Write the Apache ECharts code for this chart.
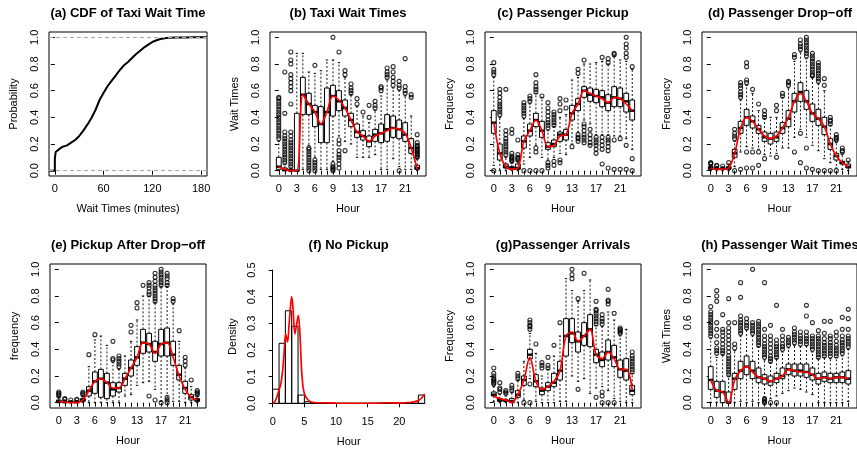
<!DOCTYPE html>
<html>
<head>
<meta charset="utf-8">
<script src="https://cdn.jsdelivr.net/npm/echarts@6/dist/echarts.min.js"></script>
<style>
html, body { margin: 0; background: #fff; }
#chart { width: 857px; height: 451px; }
</style>
</head>
<body>
<div id="chart"></div>
<script>
var hours = [0,1,2,3,4,5,6,7,8,9,10,11,12,13,14,15,16,17,18,19,20,21,22,23];
var hourLabels = [0,3,6,9,13,17,21];
var unitTicks = [0,0.2,0.4,0.6,0.8,1.0];

// (a) CDF of taxi wait time
var cdfT = [-7,0,0,1,3,6,10,15,20,25,30,35,40,45,50,55,60,65,70,75,80,85,90,95,100,105,110,115,120,125,130,135,140,150,160,170,180,187];
var cdfP = [0,0,0.09,0.14,0.155,0.165,0.18,0.19,0.21,0.23,0.26,0.30,0.345,0.395,0.455,0.53,0.585,0.635,0.675,0.715,0.755,0.79,0.815,0.845,0.875,0.90,0.925,0.945,0.965,0.978,0.987,0.993,0.996,0.998,0.999,1,1,1];
var cdfTicks = [0,60,120,180];

// box stats per hour: [min, q1, median, q3, max]
var waitStats = [[0,0.01,0.03,0.10,0.22],[0,0,0.005,0.02,0.05],[0,0,0,0.01,0.02],[0,0,0,0.43,0.88],[0.01,0.42,0.57,0.70,0.88],[0.19,0.42,0.50,0.58,0.74],[0.10,0.33,0.44,0.49,0.73],[0.01,0.21,0.35,0.48,0.75],[0.01,0.21,0.44,0.62,0.83],[0.07,0.41,0.56,0.64,0.83],[0.26,0.45,0.52,0.60,0.81],[0.22,0.41,0.47,0.53,0.70],[0.20,0.33,0.38,0.43,0.57],[0.10,0.25,0.29,0.35,0.48],[0.10,0.23,0.26,0.30,0.41],[0.10,0.18,0.22,0.26,0.36],[0.12,0.22,0.27,0.31,0.45],[0.01,0.21,0.28,0.35,0.56],[0.01,0.22,0.31,0.42,0.68],[0.09,0.25,0.32,0.41,0.62],[0.03,0.24,0.31,0.38,0.60],[0.01,0.22,0.27,0.36,0.56],[0.01,0.13,0.17,0.24,0.41],[0,0.01,0.02,0.04,0.09]];
var waitOut = [[0.24,0.26,0.28,0.30,0.32,0.34,0.36,0.38,0.40,0.42,0.44,0.46,0.48,0.50,0.52,0.54,0.55],[0.06,0.08,0.10,0.12,0.14,0.16,0.18,0.20,0.22,0.24,0.26,0.29,0.43,0.74],[0.03,0.05,0.07,0.09,0.11,0.13,0.15,0.17,0.19,0.21,0.23,0.26,0.29,0.50,0.60,0.63,0.66,0.69,0.72,0.80,0.83,0.89],[],[],[0.0,0.02,0.04,0.06,0.08,0.10,0.12,0.14,0.16,0.17],[0.0,0.02,0.04,0.06,0.08,0.79],[],[],[0.0,0.01,0.02,0.03,0.05,1.0],[0.02,0.05,0.08,0.10,0.12,0.15,0.20,0.23,0.89],[0.15,0.72,0.75],[0.58,0.60,0.62,0.65],[0.50,0.54],[0.44],[0.40,0.49],[0.47,0.49,0.52],[0.60,0.62,0.63],[0.70,0.72,0.74,0.77],[0.64,0.67,0.70,0.74,0.78],[0.0,0.62,0.64,0.67],[0.58,0.60,0.63,0.84],[0.55,0.57],[0.10,0.11,0.12,0.13,0.14,0.15,0.16,0.17,0.18,0.19,0.21,0.27]];
var waitLine = [0.03,0.01,0.0,0.0,0.57,0.50,0.44,0.35,0.44,0.56,0.53,0.47,0.38,0.29,0.26,0.22,0.26,0.28,0.30,0.32,0.31,0.28,0.17,0.01];

var pickStats = [[0.04,0.28,0.36,0.45,0.70],[0,0.08,0.13,0.20,0.40],[0,0.02,0.03,0.05,0.10],[0,0.01,0.02,0.03,0.06],[0,0.01,0.02,0.05,0.07],[0.05,0.17,0.22,0.26,0.39],[0.10,0.26,0.30,0.35,0.50],[0.19,0.33,0.38,0.43,0.58],[0.10,0.25,0.30,0.37,0.55],[0.08,0.16,0.18,0.21,0.30],[0.10,0.18,0.20,0.23,0.33],[0.13,0.22,0.27,0.29,0.40],[0.12,0.23,0.27,0.31,0.42],[0.20,0.38,0.43,0.49,0.68],[0.29,0.45,0.50,0.54,0.70],[0.38,0.55,0.60,0.63,0.80],[0.35,0.52,0.57,0.62,0.80],[0.27,0.51,0.56,0.61,0.81],[0.27,0.48,0.55,0.60,0.82],[0.27,0.45,0.51,0.57,0.80],[0.26,0.48,0.55,0.63,0.86],[0.26,0.48,0.54,0.62,0.83],[0.24,0.44,0.52,0.58,0.82],[0.16,0.38,0.45,0.53,0.76]];
var pickOut = [[0.0,0.72,0.74,0.76,0.81],[0.42,0.44,0.46,0.48,0.50,0.52,0.55,0.58,0.61],[0.12,0.14,0.16,0.18,0.20,0.22,0.24,0.27,0.30,0.61],[0.07,0.08,0.09,0.10,0.11,0.13,0.28,0.31],[0.08,0.09,0.10,0.12,0.23],[0.0,0.41,0.43,0.45,0.47,0.49,0.51],[0.0,0.52,0.54,0.56],[0.0,0.14,0.17,0.59,0.61,0.63,0.66,0.72],[0.0,0.56],[0.02,0.04,0.06,0.32,0.34,0.36,0.38,0.41,0.44,0.47,0.51],[0.04,0.07,0.34,0.36,0.38,0.40,0.42,0.44],[0.06,0.08,0.45,0.50,0.54],[0.47,0.53],[0.18],[0.22,0.24,0.25,0.27,0.73,0.76],[0.21,0.23,0.25,0.27,0.30,0.33,0.35,0.83],[0.19,0.21,0.24,0.27,0.31],[0.13,0.16,0.19,0.21,0.23,0.25],[0.05,0.16,0.19,0.22,0.25,0.85],[0.02,0.15,0.18,0.21,0.23,0.25,0.81,0.84],[0.01,0.23,0.87,0.88],[0.01,0.24],[0.01,0.19,0.85,0.88,0.92,0.95,1.0],[0.0,0.09,0.78]];
var pickLine = [0.36,0.13,0.03,0.01,0.02,0.22,0.30,0.38,0.30,0.18,0.19,0.26,0.27,0.43,0.50,0.60,0.58,0.56,0.54,0.51,0.55,0.54,0.50,0.45];

var dropStats = [[0,0.01,0.02,0.03,0.04],[0,0.01,0.015,0.02,0.03],[0,0.01,0.015,0.02,0.03],[0,0.01,0.02,0.03,0.05],[0.03,0.10,0.13,0.16,0.22],[0.14,0.28,0.32,0.37,0.53],[0.18,0.34,0.40,0.46,0.64],[0.17,0.32,0.37,0.41,0.58],[0.16,0.28,0.31,0.34,0.45],[0.12,0.22,0.25,0.29,0.39],[0.11,0.20,0.24,0.28,0.40],[0.13,0.22,0.25,0.29,0.40],[0.17,0.28,0.32,0.36,0.55],[0.17,0.33,0.39,0.45,0.62],[0.25,0.44,0.52,0.58,0.82],[0.31,0.52,0.59,0.66,0.89],[0.25,0.46,0.52,0.60,0.84],[0.19,0.37,0.43,0.50,0.70],[0.15,0.34,0.39,0.46,0.65],[0.09,0.27,0.33,0.40,0.60],[0.06,0.16,0.20,0.24,0.34],[0.02,0.08,0.11,0.13,0.21],[0.01,0.05,0.06,0.07,0.12],[0,0.02,0.03,0.05,0.07]];
var dropOut = [[0.05,0.055,0.06],[0.035,0.04],[0.035],[0.06],[0.0,0.24,0.26,0.28,0.31],[0.01,0.55,0.57,0.59,0.62,0.64,0.66],[0.02,0.14,0.66,0.68,0.78,0.81],[0.02,0.14,0.61],[0.04,0.14,0.50],[0.09,0.40,0.42,0.45],[],[0.10,0.45,0.49],[0.56,0.58],[0.64,0.66,0.67],[0.14,0.85,0.87],[0.06,0.28,0.91,0.93,0.95,0.98],[0.02,0.17,0.86,0.88,0.90,0.92,0.94,0.96,0.98,1.0],[0.01,0.71,0.72,0.74,0.76,0.78,0.80,0.82,0.84,0.86,0.88],[0.0,0.67,0.69,0.71,0.73,0.75,0.77,0.79,0.81],[0.0,0.64,0.69],[0.0,0.35,0.37,0.38,0.40],[0.0,0.23,0.24,0.25,0.27],[0.14,0.15,0.17],[0.08]];
var dropLine = [0.02,0.01,0.01,0.02,0.13,0.32,0.40,0.37,0.31,0.26,0.24,0.26,0.32,0.40,0.52,0.58,0.52,0.43,0.39,0.33,0.20,0.11,0.06,0.03];

var afterStats = [[0,0,0.01,0.02,0.04],[0,0,0.005,0.01,0.02],[0,0,0.005,0.01,0.015],[0,0,0.005,0.01,0.015],[0,0.01,0.02,0.03,0.05],[0,0.05,0.09,0.12,0.27],[0,0.07,0.16,0.23,0.47],[0,0.04,0.18,0.25,0.50],[0,0.03,0.15,0.22,0.43],[0,0.05,0.10,0.15,0.30],[0,0.08,0.11,0.15,0.25],[0.05,0.13,0.18,0.22,0.35],[0.06,0.20,0.26,0.32,0.46],[0.13,0.28,0.34,0.42,0.62],[0.15,0.37,0.45,0.55,0.80],[0.16,0.38,0.44,0.52,0.80],[0.10,0.31,0.38,0.46,0.75],[0.01,0.35,0.44,0.55,0.87],[0.02,0.35,0.45,0.56,0.87],[0.01,0.28,0.36,0.46,0.74],[0.01,0.17,0.21,0.28,0.46],[0,0.07,0.11,0.16,0.26],[0,0.02,0.04,0.06,0.12],[0,0.01,0.02,0.03,0.05]];
var afterOut = [[0.05,0.06,0.07,0.08],[0.025,0.03],[0.02],[0.02,0.025],[0.06,0.07,0.08],[0.36],[0.51],[],[],[0.32,0.33,0.46],[0.27,0.29,0.31,0.33,0.35],[],[0.53,0.58],[0.71,0.75],[0.88],[0.05,0.81,0.83,0.86,0.88,0.90],[0.02,0.76,0.78,0.80,0.82,0.84,0.86,0.88,0.91,0.94,0.97],[0.0,0.88,0.90,0.92,0.94,0.96,0.98,1.0],[0.0,0.02,0.04,0.88,0.90,0.93,0.95,0.97],[0.76,0.78],[0.54],[0.28,0.31,0.34],[0.17],[0.06,0.07,0.08,0.09]];
var afterLine = [0.01,0.005,0.0,0.0,0.02,0.09,0.16,0.18,0.15,0.11,0.11,0.18,0.26,0.34,0.45,0.44,0.37,0.44,0.45,0.34,0.20,0.10,0.04,0.02];

// (f) no pickup histogram, bins of one hour
var histStart = [0,1,2,3,4,5,6,7,8,9,10,11,12,13,14,15,16,17,18,19,20,21,22,23];
var histDens = [0.053,0.225,0.347,0.289,0.031,0.006,0.002,0.002,0.001,0.001,0,0,0,0,0,0,0,0,0.001,0.001,0.001,0.002,0.006,0.031];
var densX = [0,0.3,0.6,1.0,1.3,1.6,1.8,2.05,2.35,2.6,2.8,3.0,3.2,3.5,3.8,4.05,4.3,4.55,4.8,5.1,5.5,6.0,7.0,8.0,10,13,16,18,20,21,22,23,23.5,24];
var densY = [0.0,0.005,0.02,0.05,0.075,0.13,0.19,0.26,0.23,0.30,0.36,0.40,0.36,0.26,0.30,0.33,0.26,0.13,0.06,0.03,0.015,0.006,0.002,0.002,0.0005,0,0.0005,0.002,0.001,0.002,0.004,0.01,0.02,0.035];
var histTicks = [0,5,10,15,20];
var densTicks = [0,0.1,0.2,0.3,0.4,0.5];

var arrStats = [[0.01,0.05,0.06,0.08,0.12],[0,0.01,0.02,0.03,0.06],[0,0.01,0.015,0.02,0.05],[0,0,0.01,0.03,0.08],[0,0.04,0.06,0.09,0.17],[0.02,0.13,0.17,0.20,0.31],[0.18,0.33,0.36,0.40,0.52],[0.01,0.12,0.16,0.21,0.37],[0,0.06,0.09,0.11,0.20],[0,0.09,0.12,0.15,0.25],[0,0.12,0.15,0.22,0.35],[0.01,0.17,0.24,0.31,0.50],[0.01,0.35,0.50,0.63,0.93],[0.2,0.45,0.52,0.63,0.84],[0.16,0.38,0.46,0.53,0.76],[0.18,0.43,0.50,0.60,0.84],[0.07,0.42,0.55,0.66,0.92],[0.11,0.30,0.36,0.40,0.58],[0.12,0.27,0.32,0.38,0.57],[0.09,0.32,0.38,0.47,0.68],[0.03,0.27,0.34,0.43,0.62],[0.01,0.19,0.25,0.32,0.50],[0,0.17,0.24,0.33,0.55],[0,0.06,0.09,0.13,0.22]];
var arrOut = [[0.14,0.15,0.16,0.17,0.18,0.20,0.22,0.26],[0.08,0.10,0.11,0.15],[0.07,0.08,0.09],[0.09,0.11,0.13],[0.18,0.20,0.22],[0.0],[0.0,0.14,0.55,0.57,0.58,0.60,0.62],[0.44],[0.26,0.28,0.30],[0.26,0.28,0.34],[0.43],[0.60],[],[0.93,0.96,1.0],[0.10,0.78],[0.97],[],[0.04,0.59,0.61,0.63,0.65,0.67,0.69,0.70,0.76],[0.0,0.05,0.08,0.59,0.61,0.63,0.66],[0.0,0.74,0.76,0.77,0.85],[0.0,0.67],[0.52,0.53,0.54,0.55,0.56],[],[0.23,0.25,0.27,0.29,0.31,0.33,0.35,0.38]];
var arrLine = [0.05,0.03,0.02,0.0,0.06,0.17,0.34,0.16,0.10,0.12,0.16,0.24,0.50,0.53,0.46,0.50,0.55,0.36,0.33,0.38,0.33,0.25,0.25,0.10];

var pwStats = [[0,0.10,0.17,0.27,0.48],[0,0.04,0.09,0.16,0.34],[0,0,0.08,0.16,0.36],[0,0,0,0.08,0.20],[0,0.10,0.18,0.22,0.39],[0.01,0.18,0.24,0.31,0.50],[0,0.21,0.27,0.35,0.55],[0.01,0.18,0.24,0.31,0.50],[0,0.15,0.19,0.26,0.42],[0.04,0.14,0.18,0.21,0.32],[0.03,0.13,0.16,0.20,0.30],[0.05,0.15,0.18,0.22,0.33],[0.07,0.18,0.20,0.26,0.38],[0.09,0.21,0.25,0.29,0.41],[0.11,0.20,0.24,0.29,0.43],[0.10,0.20,0.24,0.29,0.42],[0.08,0.19,0.23,0.29,0.43],[0.06,0.17,0.21,0.26,0.38],[0,0.14,0.18,0.22,0.33],[0,0.16,0.19,0.23,0.34],[0,0.15,0.18,0.22,0.33],[0,0.15,0.19,0.22,0.34],[0,0.15,0.19,0.23,0.35],[0.01,0.14,0.18,0.24,0.40]];
var pwOut = [[0.50,0.52,0.54,0.56,0.58,0.60,0.62,0.64,0.66,0.68,0.72],[0.37,0.39,0.41,0.45,0.50,0.55,0.60,0.76,0.80,0.84],[0.37,0.39,0.41,0.44,0.47,0.50,0.53,0.55,0.66],[0.21,0.23,0.25,0.27,0.29,0.31,0.33,0.35,0.38,0.41,0.44,0.47,0.50,0.53,0.56,0.60,0.78],[0.41,0.44,0.60],[0.52,0.54,0.56,0.58,0.60,0.62,0.65,0.79,0.90],[0.56,0.58,0.60,0.63],[0.52,0.54,0.56,0.58,0.60,1.0],[0.43,0.45,0.47,0.49,0.51,0.53,0.55,0.57,0.59,0.61],[0.0,0.01,0.02,0.03,0.34,0.36,0.38,0.40,0.42,0.44,0.47,0.50,0.55,0.90],[0.0,0.31,0.33,0.35,0.38,0.41,0.44,0.47,0.50,0.58],[0.0,0.34,0.36,0.38,0.40,0.42,0.44,0.47,0.73],[0.40,0.42,0.44,0.47,0.50,0.55],[0.43,0.45,0.47,0.49],[0.45,0.47,0.49,0.51,0.53,0.56],[0.44,0.46,0.48,0.50,0.53],[0.44,0.46,0.48,0.50,0.53,0.65,0.73],[0.40,0.42,0.44,0.46,0.48,0.50,0.60],[0.34,0.36,0.38,0.40,0.42,0.44,0.46,0.48,0.50,0.54],[0.35,0.37,0.39,0.41,0.43,0.45,0.48,0.52,0.61],[0.35,0.37,0.39,0.41,0.43,0.45,0.48,0.50,0.61],[0.35,0.37,0.39,0.41,0.43,0.46,0.50,0.53],[0.37,0.39,0.41,0.43,0.45,0.47,0.50,0.55,0.64],[0.42,0.44,0.46,0.48,0.50,0.55,0.63,0.70]];
var pwLine = [0.17,0.09,0.08,0.0,0.17,0.24,0.27,0.23,0.19,0.18,0.16,0.18,0.20,0.25,0.24,0.23,0.23,0.21,0.18,0.19,0.18,0.19,0.19,0.18];

var FONT = "'Liberation Sans', Arial, Helvetica, sans-serif";
var myChart = echarts.init(document.getElementById('chart'));

var grids = [], xAxes = [], yAxes = [], series = [], titles = [];

function addTitle(text, cx, top) {
    titles.push({
        text: text, left: cx, top: top, textAlign: 'center', padding: 0,
        textStyle: { fontFamily: FONT, fontSize: 13, fontWeight: 'bold', color: '#000' }
    });
}

function xAxis(gi, min, max, ticks, labels, name, extra) {
    return Object.assign({
        type: 'value', gridIndex: gi, min: min, max: max,
        name: name, nameLocation: 'middle', nameGap: 27,
        nameTextStyle: { fontFamily: FONT, fontSize: 11, color: '#000' },
        axisLine: { show: false }, splitLine: { show: false },
        axisTick: { show: true, inside: false, length: 4, customValues: ticks, lineStyle: { color: '#000', width: 1 } },
        axisLabel: { customValues: labels, margin: 7, fontFamily: FONT, fontSize: 11, color: '#000' }
    }, extra || {});
}

function yAxis(gi, min, max, ticks, name, extra) {
    return Object.assign({
        type: 'value', gridIndex: gi, min: min, max: max,
        name: name, nameLocation: 'middle', nameGap: 30, nameRotate: 90,
        nameTextStyle: { fontFamily: FONT, fontSize: 11, color: '#000' },
        axisLine: { show: false }, splitLine: { show: false },
        axisTick: { show: true, inside: false, length: 4, customValues: ticks, lineStyle: { color: '#000', width: 1 } },
        axisLabel: { customValues: ticks, rotate: 90, margin: 9, fontFamily: FONT, fontSize: 11, color: '#000',
            formatter: function (v) { return v.toFixed(1); } }
    }, extra || {});
}

function frameGrid(left, top, width) {
    grids.push({ left: left, top: top, width: width, height: 144, show: true, borderColor: '#000', borderWidth: 1, backgroundColor: 'transparent' });
    return grids.length - 1;
}

function renderBox(params, api) {
    var h = api.value(0);
    var lo = api.value(1), q1 = api.value(2), md = api.value(3), q3 = api.value(4), hi = api.value(5);
    var c = function (x, y) { return api.coord([x, y]); };
    var dash = { stroke: '#000', lineWidth: 0.9, lineDash: [2, 2] };
    var solid = { stroke: '#000', lineWidth: 1 };
    function seg(p, q, st) { return { type: 'line', shape: { x1: p[0], y1: p[1], x2: q[0], y2: q[1] }, style: st }; }
    var a = c(h - 0.4, q3), b = c(h + 0.4, q1);
    return {
        type: 'group',
        children: [
            seg(c(h, q3), c(h, hi), dash),
            seg(c(h, q1), c(h, lo), dash),
            seg(c(h - 0.2, hi), c(h + 0.2, hi), solid),
            seg(c(h - 0.2, lo), c(h + 0.2, lo), solid),
            { type: 'rect', shape: { x: a[0], y: a[1], width: b[0] - a[0], height: b[1] - a[1] }, style: { fill: '#fff', stroke: '#000', lineWidth: 1 } },
            seg(c(h - 0.4, md), c(h + 0.4, md), { stroke: '#000', lineWidth: 2.4 })
        ]
    };
}

function boxPanel(title, yname, left, top, stats, outs, line) {
    var gi = frameGrid(left, top, 156);
    xAxes.push(xAxis(gi, -1.46, 24.46, hours, hourLabels, 'Hour'));
    yAxes.push(yAxis(gi, -0.04, 1.04, unitTicks, yname));
    addTitle(title, left + 78, top - 25);
    var boxData = stats.map(function (s, i) { return [hours[i]].concat(s); });
    var outData = [];
    outs.forEach(function (arr, i) { arr.forEach(function (v) { outData.push([hours[i], v]); }); });
    series.push({
        type: 'custom', xAxisIndex: gi, yAxisIndex: gi, renderItem: renderBox,
        encode: { x: 0, y: [1, 2, 3, 4, 5] }, data: boxData, clip: true
    });
    series.push({
        type: 'scatter', xAxisIndex: gi, yAxisIndex: gi, symbol: 'circle', symbolSize: 4,
        itemStyle: { color: 'transparent', borderColor: '#000', borderWidth: 1.1 },
        data: outData, z: 3
    });
    series.push({
        type: 'line', xAxisIndex: gi, yAxisIndex: gi, smooth: 0.35, showSymbol: false, symbol: 'none',
        lineStyle: { color: '#ff0000', width: 1.7 },
        data: hours.map(function (h, i) { return [h, line[i]]; }), z: 4
    });
}

// (a) CDF panel
var ga = frameGrid(49, 32, 158);
xAxes.push(xAxis(ga, -7.2, 187.2, cdfTicks, cdfTicks, 'Wait Times (minutes)'));
yAxes.push(yAxis(ga, -0.04, 1.04, unitTicks, 'Probability'));
addTitle('(a) CDF of Taxi Wait Time', 49 + 79, 7);
series.push({
    type: 'line', xAxisIndex: ga, yAxisIndex: ga, showSymbol: false, symbol: 'none',
    lineStyle: { color: '#000', width: 2 },
    data: cdfT.map(function (t, i) { return [t, cdfP[i]]; }),
    markLine: {
        silent: true, symbol: 'none', label: { show: false },
        lineStyle: { color: '#aaa', type: [4, 3], width: 1 },
        data: [{ yAxis: 0 }, { yAxis: 1 }]
    }
});

boxPanel('(b) Taxi Wait Times', 'Wait Times', 270, 32, waitStats, waitOut, waitLine);
boxPanel('(c) Passenger Pickup', 'Frequency', 485, 32, pickStats, pickOut, pickLine);
boxPanel('(d) Passenger Drop\u2212off', 'Frequency', 702, 32, dropStats, dropOut, dropLine);
boxPanel('(e) Pickup After Drop\u2212off', 'frequency', 50, 264, afterStats, afterOut, afterLine);

// (f) histogram with density, no frame
grids.push({ left: 272.7, top: 270, width: 152, height: 133.3, show: false });
var gf = grids.length - 1;
xAxes.push(xAxis(gf, 0, 24, histTicks, histTicks, 'Hour', {
    offset: 6, nameGap: 27,
    axisLine: { show: true, lineStyle: { color: '#000', width: 1 } }
}));
yAxes.push(yAxis(gf, 0, 0.5, densTicks, 'Density', {
    offset: 6, nameGap: 28,
    axisLine: { show: true, lineStyle: { color: '#000', width: 1 } }
}));
addTitle('(f) No Pickup', 272.7 + 76, 239);
series.push({
    type: 'custom', xAxisIndex: gf, yAxisIndex: gf,
    renderItem: function (params, api) {
        var s = api.value(0), d = api.value(1);
        var p0 = api.coord([s, d]), p1 = api.coord([s + 1, 0]);
        return { type: 'rect', shape: { x: p0[0], y: p0[1], width: p1[0] - p0[0], height: p1[1] - p0[1] },
            style: { fill: 'transparent', stroke: '#000', lineWidth: 1 } };
    },
    encode: { x: 0, y: 1 },
    data: histStart.map(function (s, i) { return [s, histDens[i]]; })
});
series.push({
    type: 'line', xAxisIndex: gf, yAxisIndex: gf, smooth: 0.3, showSymbol: false, symbol: 'none',
    lineStyle: { color: '#ff0000', width: 1.7 },
    data: densX.map(function (x, i) { return [x, densY[i]]; }), z: 4
});

boxPanel('(g)Passenger Arrivals', 'Frequency', 485, 264, arrStats, arrOut, arrLine);
boxPanel('(h) Passenger Wait Times', 'Wait Times', 702, 264, pwStats, pwOut, pwLine);

option = {
    animation: false,
    backgroundColor: '#fff',
    title: titles,
    grid: grids,
    xAxis: xAxes,
    yAxis: yAxes,
    series: series
};
myChart.setOption(option);
window.onresize = myChart.resize;
</script>
</body>
</html>
